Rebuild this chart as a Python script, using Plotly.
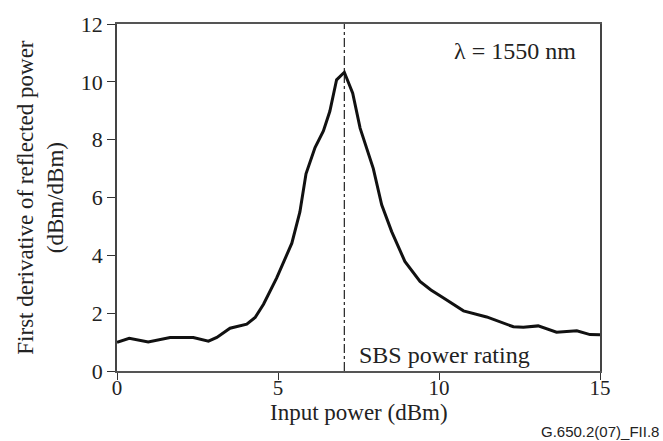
import plotly.graph_objects as go

input_power = [0, 0.38, 0.97, 1.65, 2.37, 2.84, 3.1, 3.51, 4.03, 4.29, 4.55, 4.96, 5.43, 5.68,
               5.87, 6.15, 6.41, 6.61, 6.82, 7.06, 7.32, 7.55, 7.96, 8.22, 8.53, 8.94, 9.41,
               9.75, 10.13, 10.76, 11.48, 11.79, 12.31, 12.62, 13.08, 13.65, 14.28, 14.69, 15]
derivative = [0.99, 1.13, 1.0, 1.16, 1.16, 1.03, 1.16, 1.48, 1.62, 1.85, 2.31, 3.22, 4.42, 5.5,
              6.82, 7.73, 8.3, 8.98, 10.07, 10.33, 9.61, 8.4, 7.0, 5.75, 4.82, 3.79, 3.1,
              2.8, 2.53, 2.08, 1.87, 1.74, 1.53, 1.51, 1.56, 1.34, 1.39, 1.26, 1.25]
sbs_rating = 7.06
x_ticks = [0, 5, 10, 15]
y_ticks = [0, 2, 4, 6, 8, 10, 12]

serif = "Liberation Serif"
txt = "#222"

fig = go.Figure()
fig.add_trace(go.Scatter(x=[sbs_rating, sbs_rating], y=[0, 12], mode="lines",
                         line=dict(color="#222", width=1.2, dash="dashdot"),
                         showlegend=False, hoverinfo="skip"))
fig.add_trace(go.Scatter(x=input_power, y=derivative, mode="lines",
                         line=dict(color="#111", width=3),
                         showlegend=False))

fig.update_layout(
    width=663, height=441,
    margin=dict(l=117, r=63, t=20, b=70),
    paper_bgcolor="white", plot_bgcolor="white",
    font=dict(family=serif, size=22, color=txt),
    xaxis=dict(range=[0, 15], tickvals=x_ticks, ticks="outside", ticklen=7,
               tickcolor="#333", showgrid=False, zeroline=False,
               showline=True, linecolor="#555", linewidth=1.5, mirror=True,
               ticklabelstandoff=-10,
               tickfont=dict(family=serif, size=21, color=txt)),
    yaxis=dict(range=[0, 12], tickvals=y_ticks, ticks="outside", ticklen=8,
               tickcolor="#333", showgrid=False, zeroline=False,
               showline=True, linecolor="#444", linewidth=1.5, mirror=True,
               tickfont=dict(family=serif, size=22, color=txt)),
)

fig.add_annotation(text="λ = 1550 nm", x=14.32, y=11.05, xref="x", yref="y",
                   xanchor="right", yanchor="middle", showarrow=False,
                   font=dict(family=serif, size=24, color=txt))
fig.add_annotation(text="SBS power rating", x=sbs_rating + 0.4, y=0.57, xref="x", yref="y",
                   xanchor="left", yanchor="middle", showarrow=False,
                   font=dict(family=serif, size=24, color=txt))
fig.add_annotation(text="Input power (dBm)", x=0.5, y=-0.12, xref="paper", yref="paper",
                   xanchor="center", yanchor="middle", showarrow=False, borderpad=0,
                   font=dict(family=serif, size=23, color=txt))
fig.add_annotation(text="First derivative of reflected power<br>(dBm/dBm)",
                   x=-0.159, y=0.5, xref="paper", yref="paper", showarrow=False,
                   xanchor="center", yanchor="middle",
                   textangle=-90, font=dict(family=serif, size=23, color=txt))
fig.add_annotation(text="G.650.2(07)_FII.8", x=1.0, y=-0.174, xref="paper", yref="paper",
                   xanchor="center", yanchor="middle", showarrow=False,
                   font=dict(family="Liberation Sans", size=15, color=txt))

fig.write_html("out.html")
